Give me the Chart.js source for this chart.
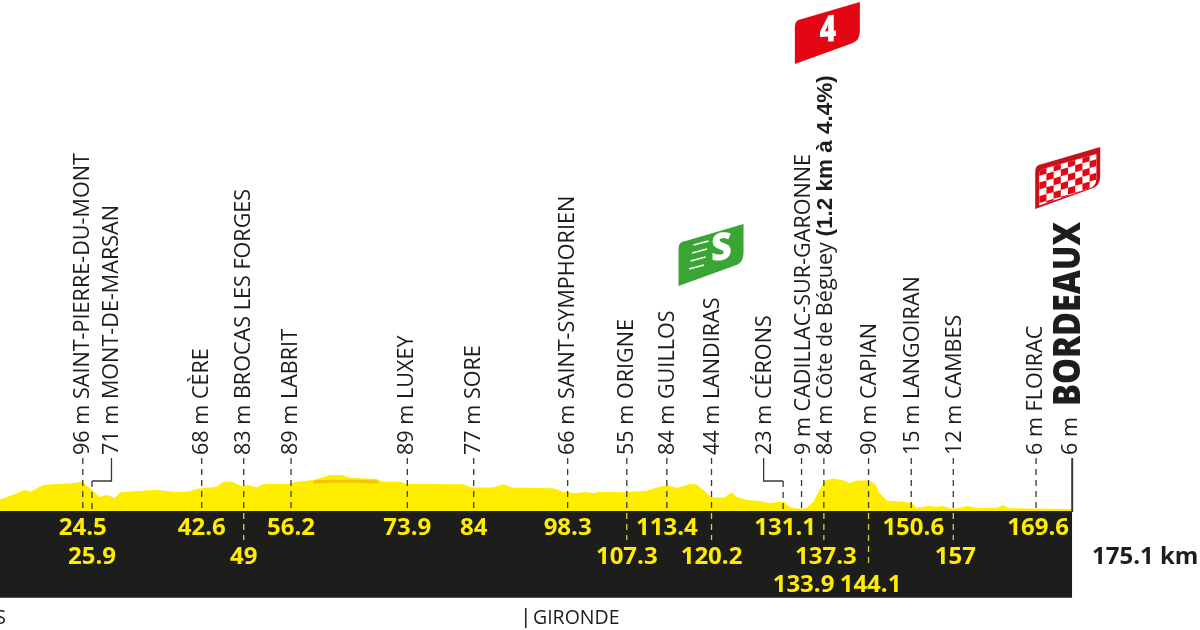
<!DOCTYPE html>
<html lang="fr">
<head>
<meta charset="UTF-8">
<title>Etape - Bordeaux</title>
<script src="https://cdn.jsdelivr.net/npm/chart.js@4.4.2/dist/chart.umd.min.js"></script>
<style>
    html, body { margin: 0; padding: 0; background: #fff; overflow: hidden; }
    canvas { display: block; }
</style>
</head>
<body>
<canvas id="profile" width="1200" height="630"></canvas>
<script>
    // profile: km and metres
    const profileKm = [11.9,13.9,15.7,16.5,18.5,20.5,23.6,24.3,25.9,27.1,28.1,29.4,30.2,35.7,36.8,38.3,40.3,42.2,44.9,45.9,47.2,48.7,49.7,50.9,52,55.8,57.1,59.6,62.1,64.1,65.2,69.2,70.2,72.8,73.8,82.4,83.7,87,88.5,89.8,96.1,97.6,99.7,100.9,102.2,103.2,106.3,107.8,110.3,111.9,113.4,114.9,116.9,117.9,118.9,120.2,122.2,122.7,123.3,124,125.6,127.6,129.1,130.4,131.4,132.1,133.7,134.7,135.7,136.5,137.5,138.7,140.3,141.1,142.3,144.1,145.1,145.8,146.9,149.4,150.7,151.4,153.5,154.5,155.2,157,159.3,160.6,163.6,164.6,165.4,175.1];
    const profileM = [38,52,68,62,84,87,91,96,68,44,52,42,60,68,65,62,62,72,78,94,94,80,84,76,87,87,94,100,116,116,107,103,94,94,87,86,76,76,86,76,73,62,57,62,57,62,60,62,65,76,84,74,87,85,68,44,43,52,60,46,35,32,25,30,27,12,6,10,30,62,98,105,98,90,98,98,87,58,33,30,26,10,17,13,17,6,17,9,10,19,9,6];
    const ridgeKm = [59.6,62,66,69.5];
    const ridgeM = [93,96,96,93];

    // town markers
    const townKm = [24.5,25.9,42.6,49,56.2,73.9,84,98.3,107.3,113.4,120.2,131.1,133.9,137.3,144.1,150.6,157,169.6];
    const townM = [96,71,68,83,89,89,77,66,55,84,44,23,9,84,90,15,12,6];
    const townName = ['SAINT-PIERRE-DU-MONT','MONT-DE-MARSAN','CÈRE','BROCAS LES FORGES','LABRIT','LUXEY','SORE','SAINT-SYMPHORIEN','ORIGNE','GUILLOS','LANDIRAS','CÉRONS','CADILLAC-SUR-GARONNE','Côte de Béguey','CAPIAN','LANGOIRAN','CAMBES','FLOIRAC'];
    const finishKm = 175.1;
    const finishM = 6;
    const finishName = 'BORDEAUX';

    const row2 = [25.9,49,107.3,120.2,137.3,157];
    const row3 = [133.9,144.1];
    const noBandDash = [25.9,133.9];
    const SANS = '"Open Sans", sans-serif';

    function flagPath(ctx, x, y) {
        ctx.beginPath();
        ctx.moveTo(x, y + 44);
        ctx.lineTo(x, y + 6);
        ctx.quadraticCurveTo(x, y, x + 7, y - 1);
        ctx.lineTo(x + 65, y - 18);
        ctx.lineTo(x + 65, y + 11);
        ctx.quadraticCurveTo(x + 65, y + 20, x + 58, y + 23);
        ctx.closePath();
    }

    const overlay = {
        id: 'overlay',
        afterDraw(chart) {
            const ctx = chart.ctx;
            const xs = chart.scales.x;
            const px = km => xs.getPixelForValue(km);
            const top = 458, base = 511;
            ctx.save();

            // leader lines
            ctx.lineWidth = 1.3;
            townKm.forEach(km => {
                const x = px(km);
                ctx.strokeStyle = '#3a3a3a';
                ctx.setLineDash([6, 5]);
                let y0 = top;
                if (km === 25.9 || km === 131.1) y0 = 481;
                ctx.beginPath();
                ctx.moveTo(x, y0);
                ctx.lineTo(x, base);
                ctx.stroke();
                if (row2.includes(km) || row3.includes(km)) {
                    if (noBandDash.includes(km)) return;
                    ctx.strokeStyle = '#d8cf3a';
                    ctx.beginPath();
                    ctx.moveTo(x, base + 2);
                    ctx.lineTo(x, row3.includes(km) ? 566 : 540);
                    ctx.stroke();
                }
            });
            ctx.setLineDash([]);
            ctx.strokeStyle = '#3a3a3a';
            const elbows = [[25.9, 19.5], [131.1, -19.5]];
            elbows.forEach(([km, dx]) => {
                const x = px(km);
                ctx.beginPath();
                ctx.moveTo(x, 481);
                ctx.lineTo(x + dx, 481);
                ctx.lineTo(x + dx, top);
                ctx.stroke();
            });
            ctx.lineWidth = 2;
            ctx.beginPath();
            ctx.moveTo(px(finishKm), top);
            ctx.lineTo(px(finishKm), 512);
            ctx.stroke();

            // town labels, written upwards
            const shift = { 25.9: 19.5, 131.1: -18, 133.9: 2, 113.4: 1, 120.2: 1, 137.3: 2, 144.1: 1, 150.6: 2, 157: 2 };
            const vertical = (x, y, parts, fit) => {
                ctx.save();
                ctx.translate(x, y);
                ctx.rotate(-Math.PI / 2);
                ctx.textAlign = 'left';
                ctx.textBaseline = 'middle';
                ctx.fillStyle = '#1d1d1b';
                let at = 0;
                parts.forEach(([text, font]) => {
                    ctx.font = font;
                    if (fit) ctx.scale(fit / ctx.measureText(text).width, 1);
                    ctx.fillText(text, at, 0);
                    at += ctx.measureText(text).width;
                });
                ctx.restore();
            };
            const REG = '21.6px ' + SANS;
            townKm.forEach((km, i) => {
                const x = px(km) + (shift[km] || 0);
                const parts = [[townM[i] + ' m ' + townName[i], REG]];
                if (km === 137.3) {
                    parts[0] = [townM[i] + ' m ' + townName[i] + ' ', REG];
                    parts.push(['(1.2 km à 4.4%)', 'bold 22.5px "Liberation Sans", sans-serif']);
                }
                vertical(x, 455, parts);
            });
            vertical(px(finishKm) - 1, 455, [[finishM + ' m ', REG]]);
            vertical(px(finishKm) - 3, 406, [[finishName, '800 37px ' + SANS]], 184);

            // km labels in the band
            ctx.textAlign = 'center';
            ctx.textBaseline = 'middle';
            ctx.font = 'bold 24px ' + SANS;
            ctx.fillStyle = '#ffed00';
            townKm.forEach(km => {
                const y = row3.includes(km) ? 585 : row2.includes(km) ? 557 : 528;
                ctx.fillText(String(km), px(km) + (km > 125 ? 2 : 0), y);
            });

            // total distance and departments
            ctx.fillStyle = '#1d1d1b';
            ctx.textAlign = 'left';
            ctx.font = 'bold 24px ' + SANS;
            ctx.fillText(finishKm + ' km', 1092, 557);
            ctx.font = '19.5px ' + SANS;
            ctx.fillText('GIRONDE', 533, 618);
            ctx.textAlign = 'right';
            ctx.fillText('LANDES', 6, 618);
            ctx.fillRect(525, 608, 1.5, 20);

            // climb flag
            let fx = px(137.3) - 29, fy = 20;
            flagPath(ctx, fx, fy);
            ctx.fillStyle = '#e30613';
            ctx.fill();
            ctx.save();
            ctx.translate(fx + 33, fy + 11);
            ctx.transform(0.78, -0.06, 0, 1, 0, 0);
            ctx.fillStyle = '#fff';
            ctx.textAlign = 'center';
            ctx.font = '800 37px ' + SANS;
            ctx.fillText('4', 0, 0);
            ctx.restore();

            // sprint flag
            fx = px(120.2) - 33; fy = 242;
            flagPath(ctx, fx, fy);
            ctx.fillStyle = '#3aa535';
            ctx.fill();
            ctx.save();
            ctx.translate(fx + 43, fy + 7);
            ctx.transform(0.95, -0.1, 0, 1, 0, 0);
            ctx.fillStyle = '#fff';
            ctx.textAlign = 'center';
            ctx.font = '800 38px ' + SANS;
            ctx.fillText('S', 0, 0);
            ctx.restore();
            ctx.strokeStyle = '#fff';
            ctx.lineWidth = 1.5;
            [0, 1, 2, 3].forEach(i => {
                ctx.beginPath();
                ctx.moveTo(fx + 15 - i * 1.5, fy + 3 + i * 8);
                ctx.lineTo(fx + 30 - i * 1.5, fy - 1 + i * 8);
                ctx.stroke();
            });

            // finish flag
            fx = px(finishKm) - 37; fy = 165;
            flagPath(ctx, fx, fy);
            ctx.fillStyle = '#c8101c';
            ctx.fill();
            ctx.save();
            ctx.translate(fx + 4, fy + 4);
            ctx.scale(0.88, 0.83);
            flagPath(ctx, 0, 0);
            ctx.fillStyle = '#fff';
            ctx.fill();
            ctx.clip();
            ctx.scale(1 / 0.88, 1 / 0.83);
            ctx.transform(1, -0.29, 0, 1, 0, 0);
            ctx.fillStyle = '#e30613';
            for (let c = 0; c < 9; c++) {
                for (let r = 0; r < 6; r++) {
                    if ((c + r) % 2 === 0) ctx.fillRect(c * 7.2, r * 6.8, 7.2, 6.8);
                }
            }
            ctx.restore();

            ctx.restore();
        }
    };

    new Chart(document.getElementById('profile'), {
        type: 'line',
        data: {
            datasets: [
                {
                    label: 'ridge',
                    data: ridgeKm.map((km, i) => ({ x: km, y: ridgeM[i] })),
                    borderColor: '#f5c400',
                    borderWidth: 3,
                    pointRadius: 0,
                    order: 0
                },
                {
                    label: 'altitude',
                    data: profileKm.map((km, i) => ({ x: km, y: profileM[i] })),
                    borderColor: '#ffed00',
                    backgroundColor: '#ffed00',
                    borderWidth: 0,
                    pointRadius: 0,
                    fill: { value: 0 },
                    order: 1
                },
                {
                    label: 'band',
                    data: [{ x: 11.9, y: 0 }, { x: finishKm, y: 0 }],
                    borderColor: '#1d1d1b',
                    backgroundColor: '#1d1d1b',
                    borderWidth: 0,
                    pointRadius: 0,
                    fill: { value: -280 },
                    order: 2
                }
            ]
        },
        options: {
            responsive: false,
            animation: false,
            devicePixelRatio: 1,
            layout: { padding: 0 },
            plugins: { legend: { display: false }, tooltip: { enabled: false } },
            scales: {
                x: { type: 'linear', min: 11.9, max: 194.55, display: false },
                y: { type: 'linear', min: -384, max: 1648, display: false }
            }
        },
        plugins: [overlay]
    });
</script>
</body>
</html>
